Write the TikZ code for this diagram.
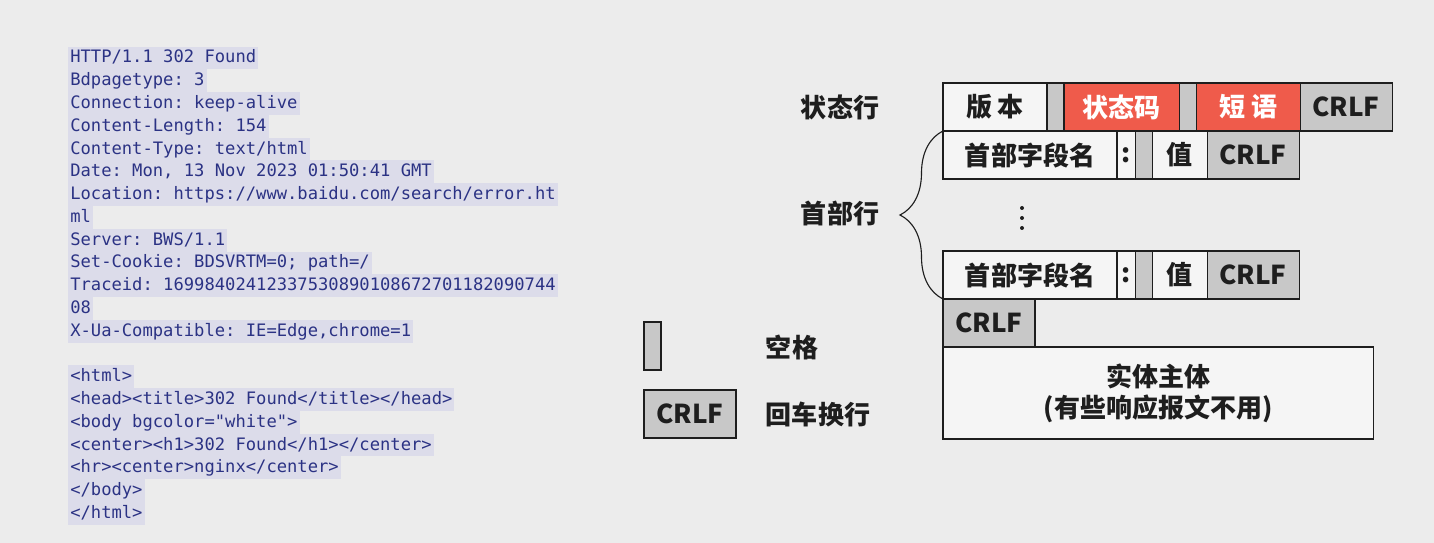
\documentclass[tikz,border=0pt]{standalone}
\usepackage{fontspec}
\setmonofont{DejaVu Sans Mono}
\newfontfamily\cjk{Noto Sans CJK SC}
\usetikzlibrary{positioning,decorations.pathreplacing}
\definecolor{bg}{HTML}{ECECEC}
\definecolor{hl}{HTML}{DCDCEA}
\definecolor{code}{HTML}{2B3284}
\definecolor{hot}{HTML}{EF5B4B}
\definecolor{gry}{HTML}{C8C8C8}
\definecolor{wht}{HTML}{F5F5F5}
\definecolor{ink}{HTML}{1E1E1E}

\begin{document}
\begin{tikzpicture}[x=0.025cm,y=-0.025cm,
    line/.style={font=\ttfamily\fontsize{12.2}{14}\selectfont, text=code, fill=hl, anchor=west,
      inner xsep=0.05cm, inner ysep=0pt, text height=0.41cm, text depth=0.16cm},
    field/.style={draw=ink, line width=0.8pt, fill=wht, minimum height=1.2cm, inner sep=0pt,
      outer sep=0pt, font=\cjk\bfseries\fontsize{18.5}{22}\selectfont, text=ink},
    gap/.style={field, fill=gry, minimum width=0.425cm},
    crlf/.style={field, fill=gry, minimum width=2.3cm},
    hot/.style={field, fill=hot, text=white},
    tag/.style={font=\cjk\bfseries\fontsize{18.5}{22}\selectfont, text=ink}]
    \fill[bg] (0,0) rectangle (1434,543);
    % response text
    \foreach \txt [count=\i from 0] in {{HTTP/1.1 302 Found},{Bdpagetype: 3},{Connection: keep-alive},
        {Content-Length: 154},{Content-Type: text/html},{Date: Mon, 13 Nov 2023 01:50:41 GMT},
        {Location: https://www.baidu.com/search/error.ht},{ml},{Server: BWS/1.1},
        {Set-Cookie: BDSVRTM=0; path=/},{Traceid: 16998402412337530890108672701182090744},{08},
        {X-Ua-Compatible: IE=Edge,chrome=1}}
      \node[line] (hdr-\i) at (68,{58+22.77*\i}) {\txt};
    \foreach \txt [count=\i from 14] in {{<html>},{<head><title>302 Found</title></head>},
        {<body bgcolor="white">},{<center><h1>302 Found</h1></center>},{<hr><center>nginx</center>},
        {</body>},{</html>}}
      \node[line] (html-\i) at (68,{58+22.77*\i}) {\txt};
    % status line
    \node[field, minimum width=2.6cm, anchor=north west] (ver) at (943,83) {版 本};
    \node[gap, right=0pt of ver] (sp1) {};
    \node[hot, minimum width=2.875cm, right=0pt of sp1] (code) {状态码};
    \node[gap, right=0pt of code] (sp2) {};
    \node[hot, minimum width=2.6cm, right=0pt of sp2] (phrase) {短 语};
    \node[crlf, right=0pt of phrase] (crlf0) {CRLF};
    % header lines
    \foreach \r/\y in {1/131,2/251} {
      \node[field, minimum width=4.35cm, anchor=north west] (name\r) at (943,\y) {首部字段名};
      \node[field, minimum width=0.45cm, right=0pt of name\r] (colon\r) {:};
      \node[gap, right=0pt of colon\r] (hsp\r) {};
      \node[field, minimum width=1.375cm, right=0pt of hsp\r] (val\r) {值};
      \node[crlf, right=0pt of val\r] (hcrlf\r) {CRLF};
    }
    \foreach \d in {208,218,228}
      \fill[ink] (1022,\d) circle (0.05cm);
    \draw[ink, line width=0.8pt, decorate, decoration={brace, amplitude=1.075cm}]
      (name2.south west) -- (name1.north west);
    \node[tag] (status) at (840,107) {状态行};
    \node[tag] (header) at (840,213) {首部行};
    % body
    \node[crlf, anchor=north west] (crlf3) at (name2.south west) {CRLF};
    \node[field, minimum width=10.75cm, minimum height=2.3cm, anchor=north west, align=center]
      (body) at (crlf3.south west) {实体主体\\(有些响应报文不用)};
    % legend
    \node[gap, anchor=north west] (spkey) at (644,322) {};
    \node[tag] (spnote) at (792,347) {空格};
    \node[crlf, anchor=north west] (crlfkey) at (644,390) {CRLF};
    \node[tag] (crlfnote) at (818,414) {回车换行};
\end{tikzpicture}
\end{document}
